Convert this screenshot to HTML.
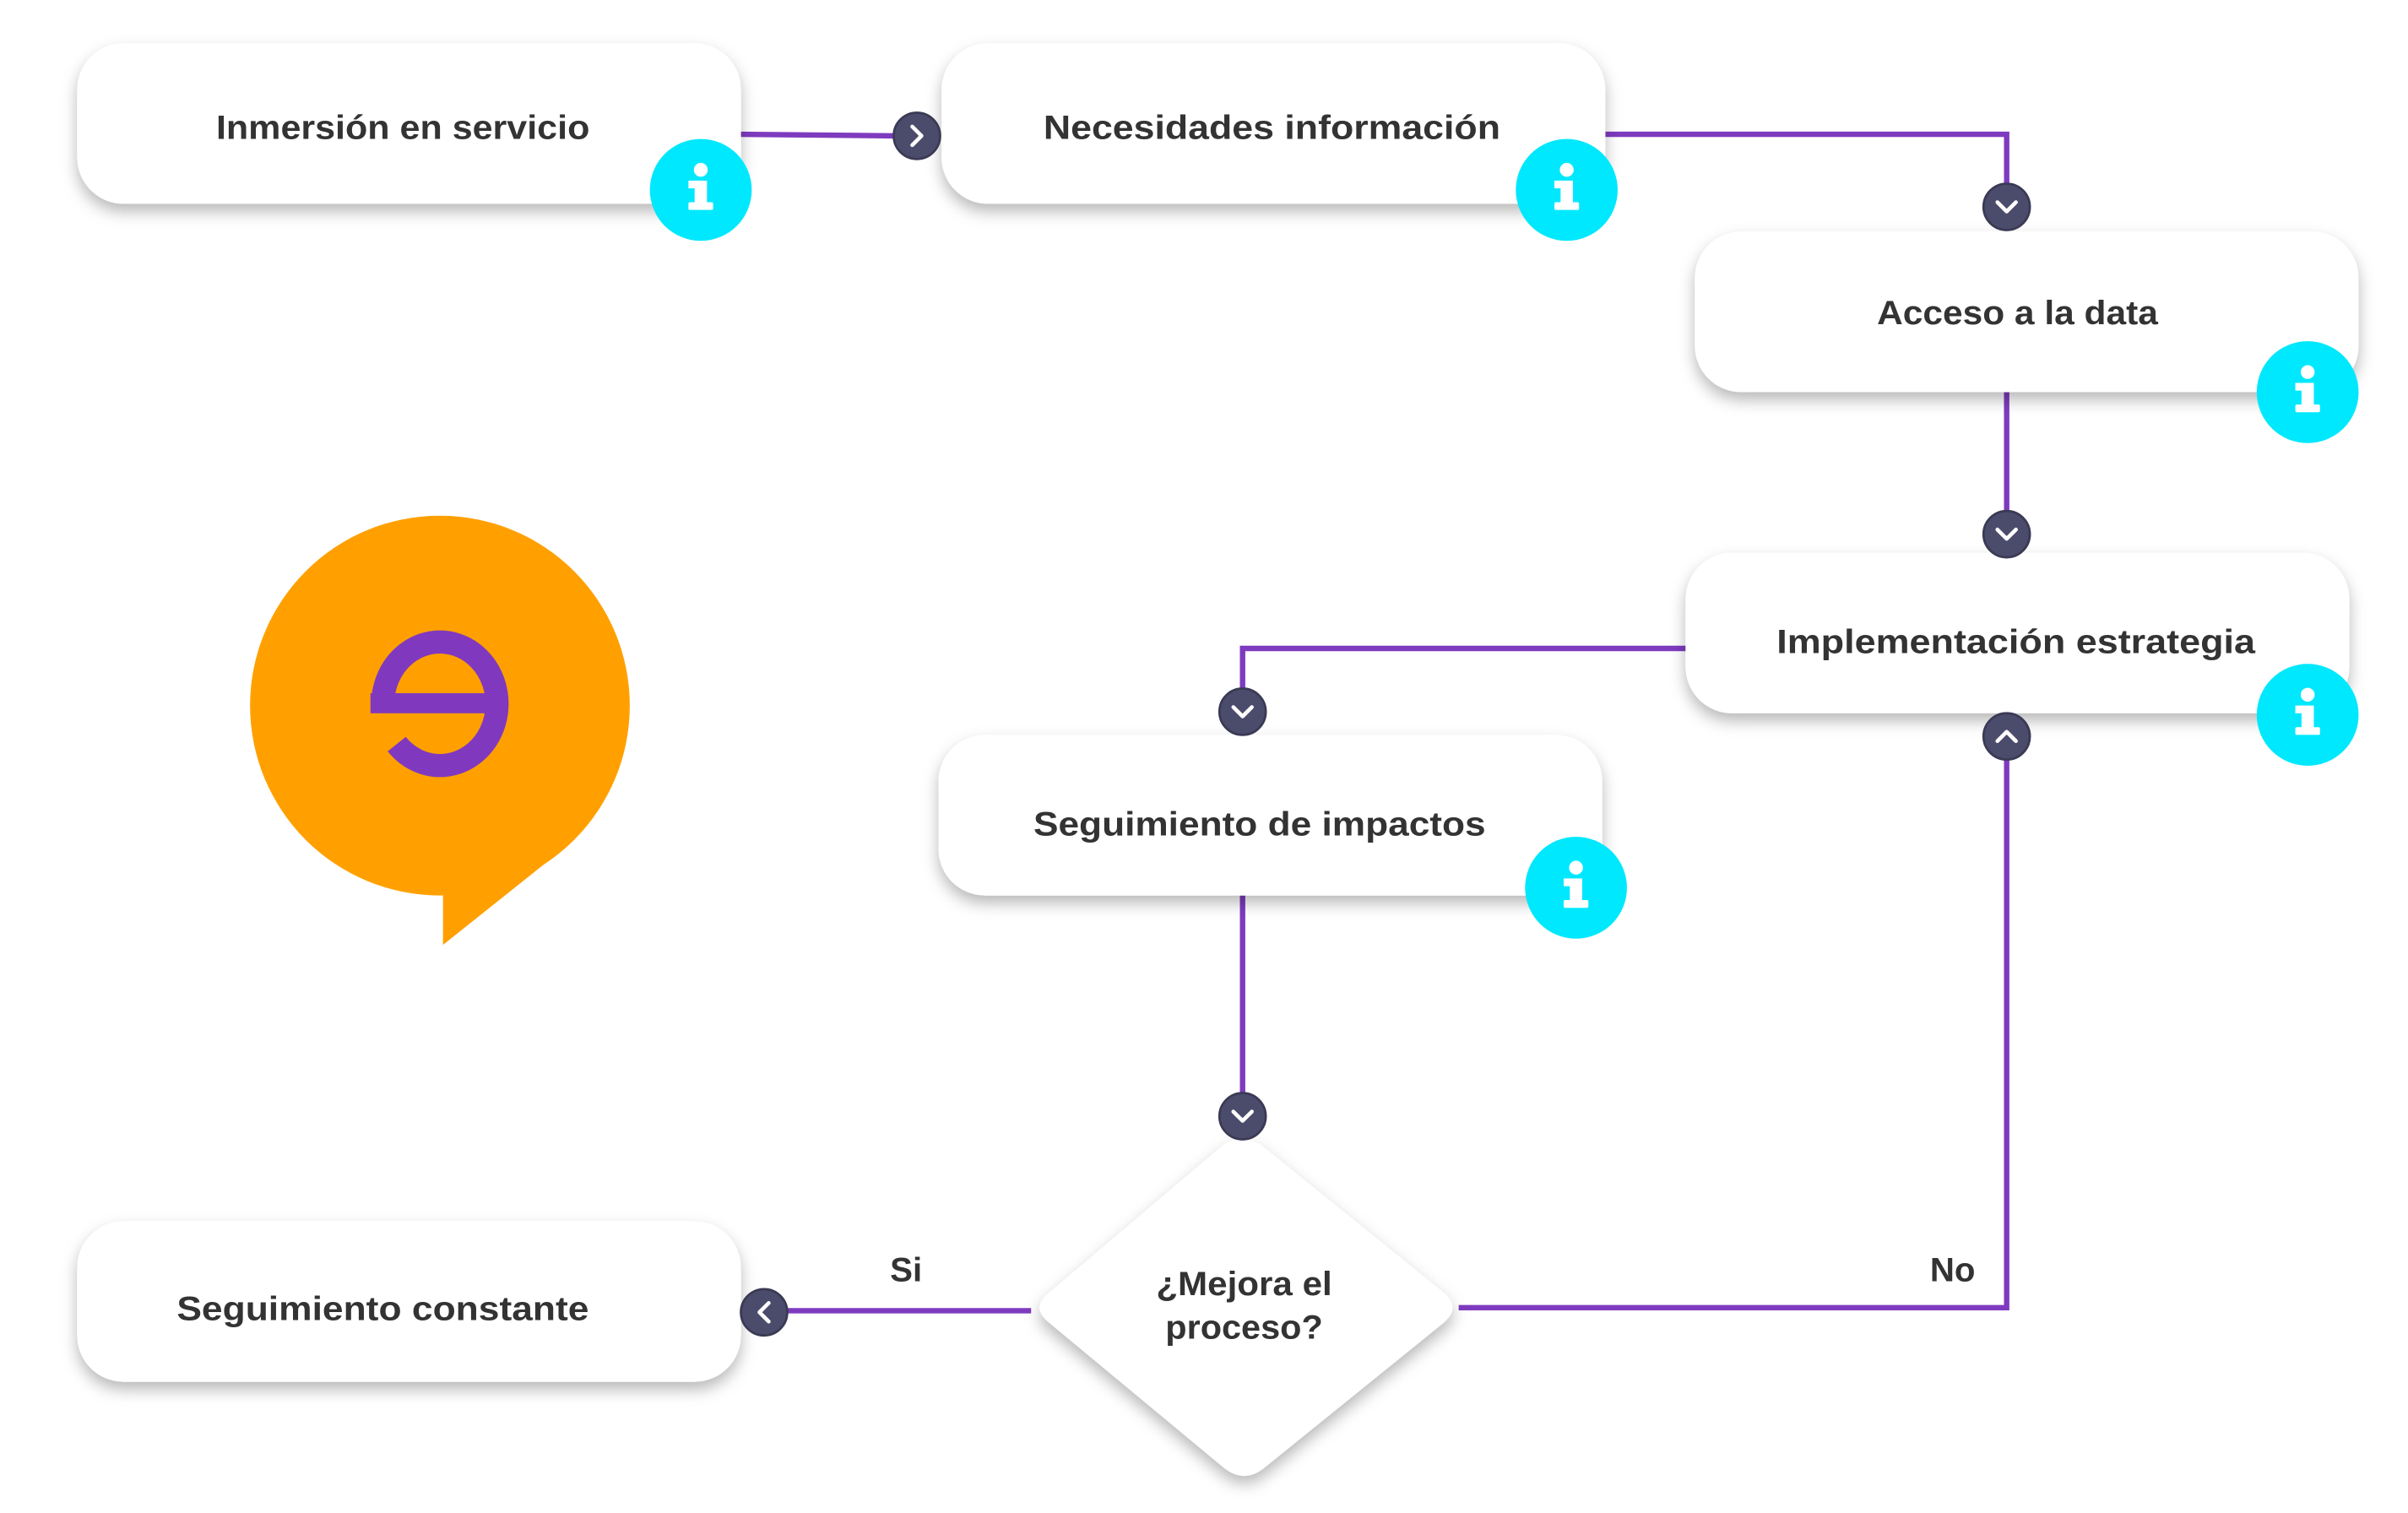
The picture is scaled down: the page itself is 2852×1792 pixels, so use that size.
<!DOCTYPE html>
<html><head><meta charset="utf-8"><style>
html,body{margin:0;padding:0;background:#fff;}
svg{display:block;}
text{font-family:"Liberation Sans",sans-serif;font-weight:bold;fill:#333;}
</style></head><body>
<svg width="2852" height="1792" viewBox="0 0 1560 980" preserveAspectRatio="none" xmlns="http://www.w3.org/2000/svg">
<defs>
<filter id="sh" x="-20%" y="-30%" width="140%" height="170%">
<feDropShadow dx="0" dy="5" stdDeviation="5" flood-color="#000" flood-opacity="0.28"/>
</filter>
<g id="info">
<circle r="33" fill="#00E8FD"/>
<circle cx="0" cy="-13" r="4.5" fill="#fff"/>
<rect x="-4" y="-6" width="8" height="18" fill="#fff"/>
<rect x="-8" y="-6" width="6" height="5" fill="#fff"/>
<rect x="-8" y="8" width="16" height="5" rx="1" fill="#fff"/>
</g>
<g id="ar">
<circle r="15" fill="#4b4b6b" stroke="#3a3a55" stroke-width="1.5"/>
</g>
</defs>
<g fill="none" stroke="#7e3bbf" stroke-width="3.5">
<path d="M480 87 L580 88"/>
<path d="M1040 87 H1300 V120"/>
<path d="M1300 254 V332"/>
<path d="M1092 420 H805 V447"/>
<path d="M805 580 V710"/>
<path d="M945 847 H1300 V492"/>
<path d="M668 849 H510"/>
</g>
<g filter="url(#sh)" fill="#fff">
<rect x="50" y="28" width="430" height="104" rx="30"/>
<rect x="610" y="28" width="430" height="104" rx="30"/>
<rect x="1098" y="150" width="430" height="104" rx="30"/>
<rect x="1092" y="358" width="430" height="104" rx="30"/>
<rect x="608" y="476" width="430" height="104" rx="30"/>
<rect x="50" y="791" width="430" height="104" rx="30"/>
<path d="M792 742 Q806 732 820 744 L935 837 Q947 847 935 857 L820 950 Q806 962 792 950 L680 857 Q667 847 680 837 Z"/>
</g>
<g font-size="22" text-anchor="middle">
<text x="261" y="90" textLength="242" lengthAdjust="spacingAndGlyphs">Inmersión en servicio</text>
<text x="824" y="90" textLength="296" lengthAdjust="spacingAndGlyphs">Necesidades  información</text>
<text x="1307" y="210" textLength="182" lengthAdjust="spacingAndGlyphs">Acceso a la data</text>
<text x="1306" y="423" textLength="310" lengthAdjust="spacingAndGlyphs">Implementación estrategia</text>
<text x="816" y="541" textLength="293" lengthAdjust="spacingAndGlyphs">Seguimiento de impactos</text>
<text x="248" y="855" textLength="267" lengthAdjust="spacingAndGlyphs">Seguimiento constante</text>
<text x="806" y="839" textLength="114" lengthAdjust="spacingAndGlyphs">¿Mejora el</text>
<text x="806" y="867" textLength="102" lengthAdjust="spacingAndGlyphs">proceso?</text>
<text x="587" y="830">Si</text>
<text x="1265" y="830">No</text>
</g>
<use href="#info" x="454" y="123"/>
<use href="#info" x="1015" y="123"/>
<use href="#info" x="1495" y="254"/>
<use href="#info" x="1495" y="463"/>
<use href="#info" x="1021" y="575"/>
<g stroke="#fff" stroke-width="2.5" fill="none" stroke-linecap="round" stroke-linejoin="round">
<use href="#ar" x="594" y="88"/><path d="M591 82 L597 88 L591 94"/>
<use href="#ar" x="1300" y="134"/><path d="M1294 131 L1300 137 L1306 131"/>
<use href="#ar" x="1300" y="346"/><path d="M1294 343 L1300 349 L1306 343"/>
<use href="#ar" x="805" y="461"/><path d="M799 458 L805 464 L811 458"/>
<use href="#ar" x="805" y="723"/><path d="M799 720 L805 726 L811 720"/>
<use href="#ar" x="1300" y="477"/><path d="M1294 480 L1300 474 L1306 480"/>
<use href="#ar" x="495" y="850"/><path d="M498 844 L492 850 L498 856"/>
</g>
<g>
<circle cx="285" cy="457" r="123" fill="#FFA000"/>
<polygon points="287,570 287,612 356,557 330,540" fill="#FFA000"/>
<rect x="160" y="320" width="250" height="14" fill="#fff"/>
<path d="M257 482 A37 40 0 1 0 248 456" fill="none" stroke="#8039BE" stroke-width="15"/>
<rect x="240" y="449" width="89" height="13" fill="#8039BE"/>
</g>
</svg>
</body></html>
